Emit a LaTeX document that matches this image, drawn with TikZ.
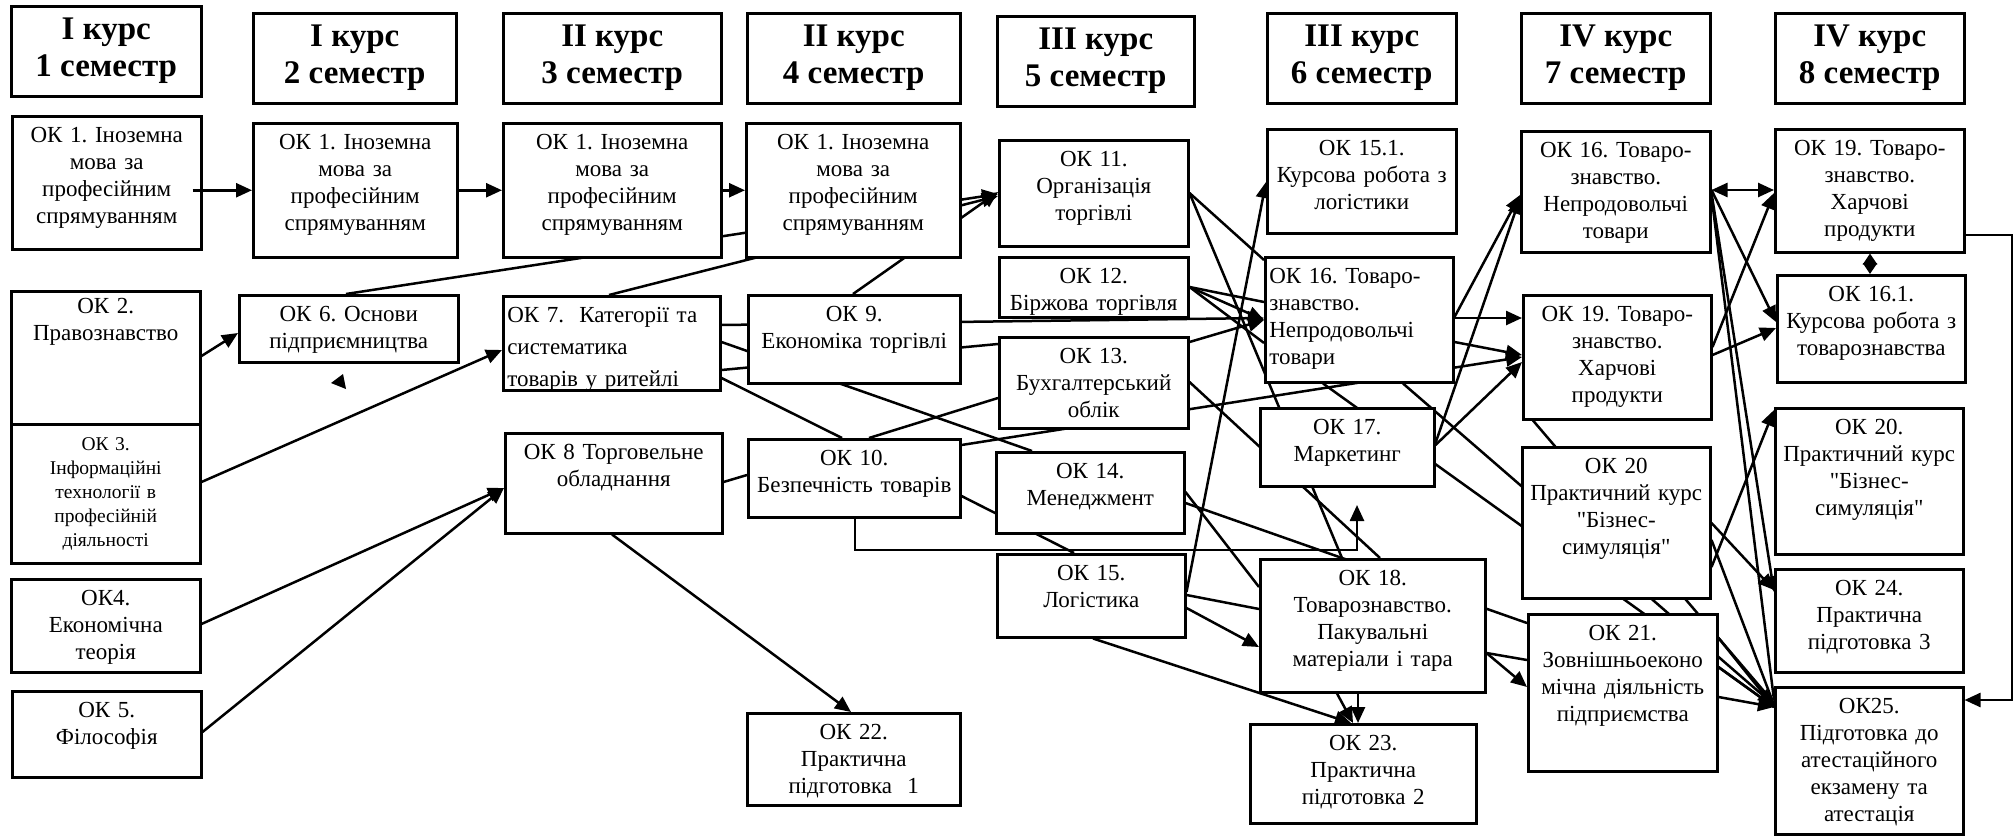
\documentclass[tikz,border=0pt]{standalone}
\usepackage{fontspec}
\setmainfont{Liberation Serif}[Ligatures=TeXOff]
\usetikzlibrary{arrows.meta,calc}
\pgfdeclarelayer{bg}
\pgfsetlayers{bg,main}
\frenchspacing
\tikzset{
 box/.style={draw, line width=2.5pt, fill=white, inner sep=0pt},
 btxt/.style={inner sep=0pt, align=center, font=\frenchspacing\fontsize{23}{27}\selectfont},
 htxt/.style={inner sep=0pt, align=center, font=\bfseries\fontsize{33}{37}\selectfont},
 con/.style={line width=2.5pt},
 arr/.style={con, -{Triangle[length=16pt,width=14pt]}},
 darr/.style={con, {Triangle[length=16pt,width=14pt]}-{Triangle[length=16pt,width=14pt]}},
 sdarr/.style={con, {Triangle[length=11pt,width=14pt]}-{Triangle[length=11pt,width=14pt]}},
}
\newcommand\bx[7][]{%
  \pgfmathsetlengthmacro\bw{#5-#3}%
  \pgfmathsetlengthmacro\bh{#6-#4}%
  \pgfmathsetlengthmacro\tw{#5-#3-4}%
  \node[box, anchor=north west, minimum width=\bw, minimum height=\bh] (#2) at (#3,#4) {};
  \begin{scope}
    \clip (#2.north west) rectangle (#2.south east);
    \node[btxt, anchor=north, text width=\tw, #1] (#2t) at ([yshift=-11pt]#2.north) {\rule{0pt}{16pt}#7};
  \end{scope}
}
\newcommand\hd[6]{%
  \pgfmathsetlengthmacro\bw{#4-#2}%
  \pgfmathsetlengthmacro\bh{#5-#3}%
  \node[box, anchor=north west, minimum width=\bw, minimum height=\bh] (#1) at (#2,#3) {};
  \node[htxt] (#1t) at ([yshift=1pt]#1.center) {#6};
}
\begin{document}
\begin{tikzpicture}[x=1pt,y=-1pt]
\useasboundingbox (0,0) rectangle (2015,835);
% headers
\hd{H1}{10}{5}{200}{95}{І курс\\1 семестр}
\hd{H2}{252}{12}{455}{102}{І курс\\2 семестр}
\hd{H3}{502}{12}{720}{102}{ІІ курс\\3 семестр}
\hd{H4}{746}{12}{959}{102}{ІІ курс\\4 семестр}
\hd{H5}{996}{15}{1193}{105}{ІІІ курс\\5 семестр}
\hd{H6}{1266}{12}{1455}{102}{ІІІ курс\\6 семестр}
\hd{H7}{1520}{12}{1709}{102}{IV курс\\7 семестр}
\hd{H8}{1774}{12}{1963}{102}{IV курс\\8 семестр}
% boxes
\bx{A1}{11}{115}{200}{248}{ОК 1. Іноземна\\мова за\\професійним\\спрямуванням}
\bx{A2}{252}{122}{456}{256}{ОК 1. Іноземна\\мова за\\професійним\\спрямуванням}
\bx{A3}{502}{122}{720}{256}{ОК 1. Іноземна\\мова за\\професійним\\спрямуванням}
\bx{A4}{745}{122}{959}{256}{ОК 1. Іноземна\\мова за\\професійним\\спрямуванням}
\bx{OK11}{998}{139}{1187}{245}{ОК 11.\\Організація\\торгівлі}
\bx{OK151}{1266}{128}{1455}{232}{ОК 15.1.\\Курсова робота з\\логістики}
\bx{OK16a}{1520}{130}{1709}{251}{ОК 16. Товаро-\\знавство.\\Непродовольчі\\товари}
\bx{OK19a}{1774}{128}{1963}{251}{ОК 19. Товаро-\\знавство.\\Харчові\\продукти}
\bx{OK161}{1776}{274}{1964}{381}{ОК 16.1.\\Курсова робота з\\товарознавства}
\bx{OK20b}{1774}{407}{1962}{553}{ОК 20.\\Практичний курс\\"Бізнес-\\симуляція"}
\bx{OK24}{1774}{568}{1962}{671}{ОК 24.\\Практична\\підготовка 3}
\bx{OK25}{1774}{686}{1962}{833}{ОК25.\\Підготовка до\\атестаційного\\екзамену та\\атестація}
\bx[yshift=4pt]{OK2}{10}{290}{199}{423}{ОК 2.\\Правознавство}
\bx[font=\fontsize{19.5}{24}\selectfont]{OK3}{10}{423}{199}{562}{ОК 3.\\Інформаційні\\технології в\\професійній\\діяльності}
\bx{OK4}{10}{578}{199}{671}{ОК4.\\Економічна\\теорія}
\bx{OK5}{11}{690}{200}{776}{ОК 5.\\Філософія}
\bx{OK6}{238}{294}{457}{361}{ОК 6. Основи\\підприємництва}
\bx[align=left, font=\fontsize{23}{32}\selectfont, xshift=2pt]{OK7}{502}{295}{719}{389}{ОК 7.\ \ Категорії та\\систематика\\товарів у ритейлі}
\bx{OK8}{504}{432}{721}{532}{ОК 8 Торговельне\\обладнання}
\bx{OK9}{747}{294}{959}{382}{ОК 9.\\Економіка торгівлі}
\bx{OK10}{747}{438}{959}{516}{ОК 10.\\Безпечність товарів}
\bx{OK22}{746}{712}{959}{804}{ОК 22.\\Практична\\підготовка\ \ 1}
\bx{OK12}{998}{256}{1187}{316}{ОК 12.\\Біржова торгівля}
\bx{OK13}{998}{336}{1187}{427}{ОК 13.\\Бухгалтерський\\облік}
\bx{OK14}{995}{451}{1183}{532}{ОК 14.\\Менеджмент}
\bx{OK15}{996}{553}{1184}{636}{ОК 15.\\Логістика}
\bx[align=left, xshift=2pt]{OK16b}{1264}{256}{1452}{381}{ОК 16. Товаро-\\знавство.\\Непродовольчі\\товари}
\bx{OK17}{1259}{407}{1433}{485}{ОК 17.\\Маркетинг}
\bx{OK18}{1259}{558}{1484}{691}{ОК 18.\\Товарознавство.\\Пакувальні\\матеріали і тара}
\bx{OK23}{1249}{723}{1475}{822}{ОК 23.\\Практична\\підготовка 2}
\bx{OK19b}{1522}{294}{1710}{418}{ОК 19. Товаро-\\знавство.\\Харчові\\продукти}
\bx{OK20a}{1521}{446}{1709}{597}{ОК 20\\Практичний курс\\"Бізнес-\\симуляція"}
\bx{OK21}{1527}{613}{1716}{770}{ОК 21.\\Зовнішньоеконо\\мічна діяльність\\підприємства}
\coordinate (e1) at (1357,505);
\coordinate (rc) at (2012,235);
% stray arrowhead
\fill (331,383) -- (343,374) -- (346,389) -- cycle;
% arrow drawn over OK1 box
\draw[arr] ($(A1.east |- A2.west)+(-10,0)$) -- (A2.west);
\begin{pgfonlayer}{bg}
\draw[arr] (A2.east) -- (A3.west);
\draw[arr] (A3.east) -- (A4.west);
\draw[arr] (OK6.north -| 346,0) -- (OK11.west |- 0,194);
\draw[arr] (OK7.north -| 609,0) -- (OK11.west |- 0,196);
\draw[arr] (OK9.north -| 853,0) -- (OK11.west |- 0,192);
\draw[arr] (OK2.east |- 0,356) -- (OK6.west |- 0,333);
\draw[arr] (OK3.east |- 0,482) -- (OK7.west |- 0,350);
\draw[arr] (OK4.east |- 0,624) -- (OK8.west |- 0,488);
\draw[arr] (OK5.east |- 0,732) -- (OK8.west |- 0,488);
\draw[arr] (OK8.south -| 612,0) -- (OK22.north -| 851,0);
\draw[arr] (OK7.east |- 0,325) -- (OK16b.west |- 0,318);
\draw[con] (OK7.east |- 0,370) -- (OK13.west |- 0,344);
\draw[con] (OK7.east |- 0,342) -- (OK14.north -| 1032,0);
\draw[con] (OK7.east |- 0,378) -- (OK10.north -| 842,0);
\draw[con] (OK10.north -| 869,0) -- (OK13.west |- 0,398);
\draw[arr] (OK10.east |- 0,445) -- (OK19b.west |- 0,357);
\draw[con] (OK8.east |- 0,482) -- (OK10.west |- 0,475);
\draw[con] (OK10.east |- 0,496) -- (OK15.north -| 1074,0);
\draw[arr] (OK10.south -| 855,0) -- (855,550) -- (1357,550) -- (e1);
\draw[con] (OK11.east |- 0,193) -- (OK16b.west |- 0,260);
\draw[con] (OK11.east |- 0,193) -- (OK18.north -| 1342,0);
\draw[con] (OK13.east |- 0,382) -- (OK18.north -| 1380,0);
\draw[con] (OK14.east |- 0,492) -- (OK18.west |- 0,587);
\draw[con] (OK14.east |- 0,503) -- (OK21.west |- 0,623);
\draw[arr] (OK15.east |- 0,592) -- (OK151.west |- 0,182);
\draw[con] (OK15.east |- 0,595) -- (OK18.west |- 0,609);
\draw[arr] (OK15.east |- 0,608) -- (OK18.west |- 0,647);
\draw[arr] (OK15.south -| 1093,0) -- (OK23.north -| 1351,0);
\draw[arr] (OK18.south -| 1358,0) -- (OK23.north -| 1358,0);
\draw[arr] (OK18.south -| 1337,0) -- (OK23.north -| 1353,0);
\draw[con] (OK18.east |- 0,653) -- (OK21.west |- 0,660);
\draw[arr] (OK18.east |- 0,653) -- (OK21.west |- 0,687);
\draw[con] (OK12.east |- 0,287) -- (OK16b.west |- 0,302);
\draw[arr] (OK12.east |- 0,287) -- (OK16b.west |- 0,320);
\draw[con] (OK12.east |- 0,287) -- (OK16b.west |- 0,343);
\draw[arr] (OK13.east |- 0,342) -- (OK16b.west |- 0,320);
\draw[arr] (OK16b.east |- 0,318) -- (OK19b.west |- 0,318);
\draw[arr] (OK16b.east |- 0,342) -- (OK19b.west |- 0,355);
\draw[arr] (OK16b.east |- 0,317) -- (OK16a.west |- 0,195);
\draw[arr] (OK17.east |- 0,443) -- (OK16a.west |- 0,198);
\draw[arr] (OK17.east |- 0,445) -- (OK19b.west |- 0,362);
\draw[con] (OK16b.south -| 1323,0) -- (OK25.west |- 0,707);
\draw[arr] (OK16b.south -| 1403,0) -- (OK25.west |- 0,705);
\draw[con] (OK19b.south -| 1533,0) -- (OK25.west |- 0,703);
\draw[darr] (OK16a.east |- 0,190) -- (OK19a.west |- 0,190);
\draw[arr] (OK16a.east |- 0,190) -- (OK161.west |- 0,322);
\draw[arr] (OK16a.east |- 0,193) -- (OK24.west |- 0,592);
\draw[con] (OK16a.east |- 0,196) -- (OK25.west |- 0,700);
\draw[sdarr] (OK19a.south -| 1870,0) -- (OK161.north -| 1870,0);
\draw[arr] (OK19a.east |- rc) -- (rc) |- (OK25.east |- 0,700);
\draw[arr] (OK19b.east |- 0,355) -- (OK161.west |- 0,328);
\draw[arr] (OK19b.east |- 0,347) -- (OK19a.west |- 0,193);
\draw[arr] (OK20a.east |- 0,567) -- (OK20b.west |- 0,410);
\draw[arr] (OK20a.east |- 0,523) -- (OK24.west |- 0,590);
\draw[con] (OK20a.east |- 0,540) -- (OK25.west |- 0,705);
\draw[con] (OK21.east |- 0,638) -- (OK25.west |- 0,707);
\draw[con] (OK21.east |- 0,667) -- (OK25.west |- 0,707);
\draw[arr] (OK21.east |- 0,697) -- (OK25.west |- 0,707);
\end{pgfonlayer}
\end{tikzpicture}
\end{document}
